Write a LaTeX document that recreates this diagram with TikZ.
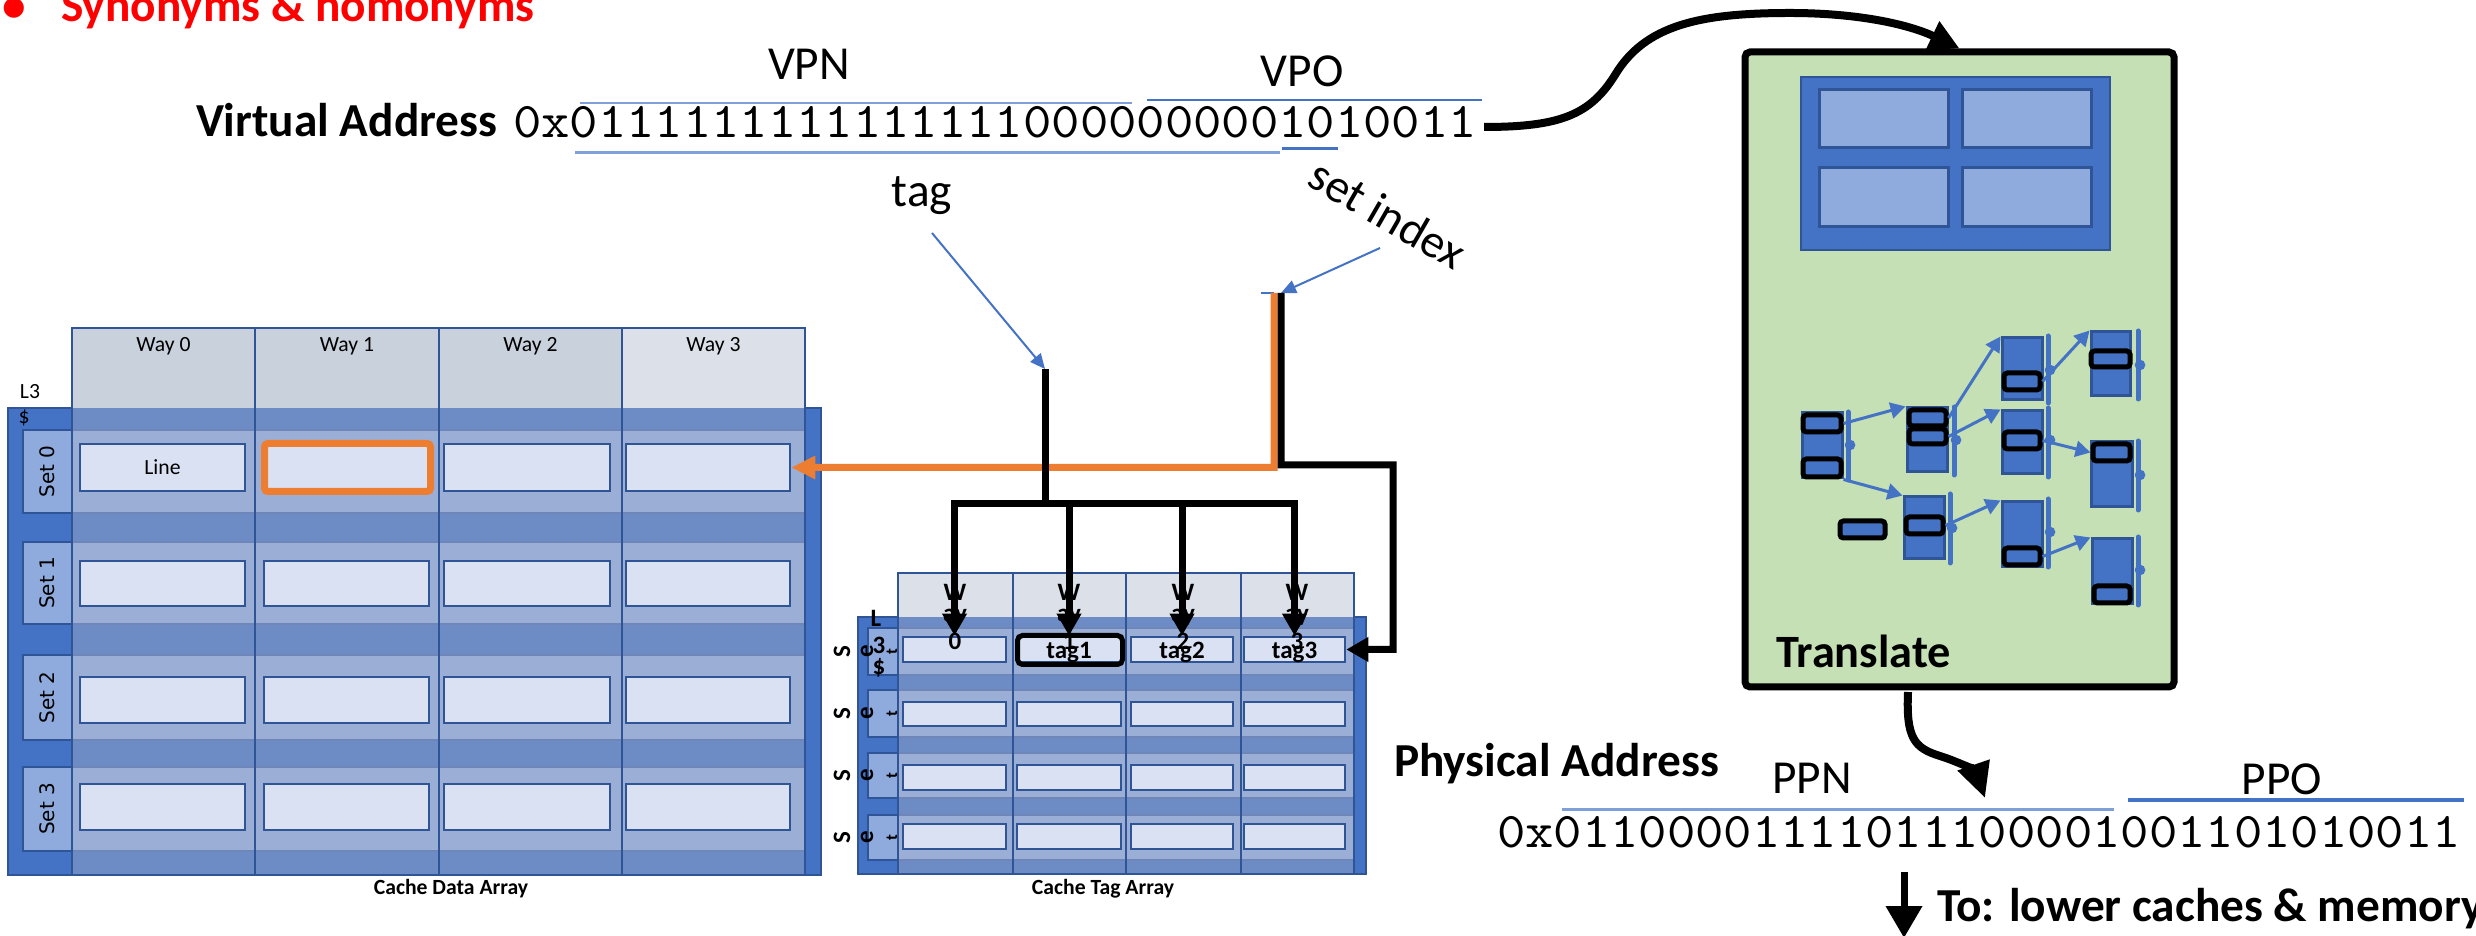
\documentclass[tikz,border=0pt]{standalone}
\usepackage{fontspec}
\setmainfont{Carlito}
\newfontfamily\monofont[FakeStretch=1.08]{lmmono10-regular.otf}
\newfontfamily\labelfont{DejaVu Sans}
\usetikzlibrary{arrows.meta,fit}

\newcommand{\setfs}[1]{\fontsize{#1}{#1}\selectfont}

\definecolor{accent}{HTML}{4472C4}
\definecolor{darkblue}{HTML}{2F5597}
\definecolor{labelfill}{HTML}{8FAADC}
\definecolor{cellfill}{HTML}{DAE1F3}
\definecolor{bandfill}{HTML}{6D8CC5}
\definecolor{rowfill}{HTML}{9BAFD6}
\definecolor{rowline}{HTML}{6F86B8}
\definecolor{headgray}{HTML}{C9D1DC}
\definecolor{headlight}{HTML}{DCE1E9}
\definecolor{orangeline}{HTML}{ED7D31}
\definecolor{greenfill}{HTML}{C5E0B4}
\definecolor{titlered}{HTML}{FF0000}
\definecolor{rulelight}{HTML}{7F9FD8}

\tikzset{
  txt/.style={inner sep=0pt, outer sep=0pt},
  biglabel/.style={txt, font=\bfseries\setfs{14.2}},
  plainlabel/.style={txt, font=\setfs{14.2}},
  bits/.style={txt, font=\monofont\setfs{15}},
  small/.style={txt, font=\setfs{6.5}},
  smallbold/.style={txt, font=\bfseries\setfs{6.5}},
  tagtext/.style={txt, font=\bfseries\setfs{7.5}},
  blk/.style={line width=2.1pt, black},
  blkarrow/.style={blk, -{Triangle[length=6.6pt,width=7pt]}},
  orangeln/.style={line width=2.1pt, orangeline},
  ptr/.style={accent, line width=0.6pt, -{Triangle[length=4.5pt,width=4pt]}},
  cellbox/.style={draw=darkblue, fill=cellfill, line width=0.75pt, inner sep=0pt},
  setbox/.style={draw=darkblue, fill=labelfill, line width=0.5pt, inner sep=0pt},
  ptcol/.style={fill=accent, draw=darkblue, line width=0.9pt, inner sep=0pt},
  ptentry/.style={fill=accent, draw=black, line width=1.5pt, rounded corners=1pt, inner sep=0pt},
  ptbracket/.style={accent, line width=1.5pt, line cap=round},
  ptarrow/.style={accent, line width=0.9pt, -{Triangle[length=4.5pt,width=4.8pt]}},
  bigcurve/.style={line width=2.4pt, black, -{Triangle[length=9pt,width=9pt]}},
}

\begin{document}
\begin{tikzpicture}[x=0.3pt, y=-0.3pt]
\fill[white] (0,0) rectangle (2476,936);
\useasboundingbox (0,0) rectangle (2476,936);

% ---------- heading ----------
\node[txt, anchor=base west, text=titlered, font=\bfseries\setfs{14.2}] (bullet) at (2,22) {•};
\node[txt, anchor=base west, text=titlered, font=\bfseries\setfs{14.2}] (title) at (61,22) {Synonyms \& homonyms};

% ---------- virtual address ----------
\node[biglabel, anchor=base west] (va) at (196,137) {Virtual Address};
\node[bits, anchor=base west] (vabits) at (513,138) {0x01111111111111110000000001010011};
\node[plainlabel] (vpn) at (809,64) {VPN};
\node[plainlabel] (vpo) at (1302,71) {VPO};
\draw[rulelight, line width=0.7pt] (580,103) -- (1132,103);
\draw[accent, line width=0.7pt] (1147,100) -- (1482,100);
\draw[rulelight, line width=0.9pt] (575,153) -- (1280,153);
\draw[accent, line width=0.9pt] (1282,149) -- (1338,149);

\node[plainlabel] (tagtxt) at (922,196) {tag};
\node[plainlabel, rotate=-30] (sitxt) at (1388,214) {set index};

% ---------- cache data array ----------
\fill[accent] (8,408) rectangle (821,875);
\draw[darkblue, line width=0.6pt] (8,408) rectangle (821,875);
\foreach \xa/\xb/\hc [count=\c from 0] in {72/255/headgray,255/439/headgray,439/622/headgray,622/805/headlight} {
  \fill[\hc] (\xa,328) rectangle (\xb,408);
  \fill[bandfill] (\xa,408) rectangle (\xb,875);
  \foreach \ya/\yb in {430/513,542/624,655/740,767/851}
    \filldraw[fill=rowfill, draw=rowline, line width=0.4pt] (\xa,\ya) rectangle (\xb,\yb);
  \draw[darkblue, line width=0.75pt] (\xa,328) rectangle (\xb,875);
  \node[small] (way-\c) at ({(\xa+\xb)/2},346) {Way \c};
}
\foreach \ya/\yb [count=\r from 0] in {430/513,542/624,655/740,767/851} {
  \node[setbox, fit={(23,\ya) (72,\yb)}] (dset-\r) {};
  \node[txt, rotate=90, font=\labelfont\setfs{6}] at (dset-\r.center) {Set \r};
}
\foreach \ya/\yb [count=\r from 0] in {444/491,561/606,677/723,784/830}
  \foreach \xa/\xb [count=\c from 0] in {80/245,264/429,444/610,626/790}
    \node[cellbox, fit={(\xa,\ya) (\xb,\yb)}] (dc-\r-\c) {};
\node[small] (linetxt) at (dc-0-0.center) {Line};
\draw[orangeline, line width=2.1pt, rounded corners=1pt] (264.5,443.5) rectangle (430.5,491.5);
\node[small] (l3) at (30,392) {L3};
\node[small] (l3d) at (24,418) {\$};
\node[smallbold] (dcap) at (451,889) {Cache Data Array};

% ---------- cache tag array ----------
\fill[accent] (858,617) rectangle (1366,874);
\draw[darkblue, line width=0.6pt] (858,617) rectangle (1366,874);
\foreach \xa/\xb [count=\c from 0] in {898/1013,1013/1126,1126/1241,1241/1354} {
  \fill[headlight] (\xa,573) rectangle (\xb,617);
  \fill[bandfill] (\xa,617) rectangle (\xb,874);
  \foreach \ya/\yb in {628/675,690/737,753/798,815/860}
    \filldraw[fill=rowfill, draw=rowline, line width=0.4pt] (\xa,\ya) rectangle (\xb,\yb);
  \draw[darkblue, line width=0.75pt] (\xa,573) rectangle (\xb,874);
}
\foreach \ya/\yb [count=\r from 0] in {628/675,690/737,753/798,815/860} {
  \node[setbox, fit={(868,\ya) (898,\yb)}] (tset-\r) {};
  \node[txt, rotate=90, font=\bfseries\setfs{7.5}] at (842,{(\ya+\yb)/2}) {S};
  \node[txt, rotate=90, font=\bfseries\setfs{7.5}] at (867,{(\ya+\yb)/2}) {e};
  \node[txt, rotate=90, font=\bfseries\setfs{5}] at (892,{(\ya+\yb)/2}) {t};
}
\node[tagtext] (tl) at (876,618) {L};
\node[tagtext] (t3) at (879,645) {3};
\node[tagtext] (td) at (879,668) {\$};
\foreach \ya/\yb [count=\r from 0] in {637/662,702/726,765/790,824/849}
  \foreach \xa/\xb [count=\c from 0] in {903/1006,1017/1121,1131/1233,1244/1345}
    \node[cellbox, fit={(\xa,\ya) (\xb,\yb)}] (tb-\r-\c) {};
\draw[black, line width=1.5pt, rounded corners=1.5pt] (1017.5,635.5) rectangle (1122.5,664.5);
\foreach \cx [count=\c from 0] in {955,1069,1183,1297} {
  \node[tagtext] at (\cx,592) {W};
  \node[tagtext] at (\cx,617) {ay};
  \node[tagtext] at (\cx,641) {\c};
}
\foreach \c in {1,2,3}
  \node[tagtext] at ([yshift=-1pt]tb-0-\c.center) {tag\c};
\node[smallbold] (tcap) at (1103,889) {Cache Tag Array};

% ---------- index / tag wiring ----------
\coordinate (tagtail) at (932,233);
\coordinate (tagjoin) at (1045,369);
\coordinate (busy) at (0,504);
\coordinate (sitail) at (1380,248);
\coordinate (sitop) at (1281,293);
\coordinate (otop) at (1274,293);

\draw[ptr] (tagtail) -- (tagjoin);
\draw[ptr] (sitail) -- (sitop);
\draw[accent, line width=0.6pt] (1261,293) -- (otop);

\draw[orangeln, -{Triangle[length=7.2pt,width=6.6pt]}] (otop) -- (1274,467.5) -- (dc-0-3.east);
\draw[blk] (tagjoin) -- (tagjoin |- busy);
\draw[blk, line cap=rect] (tb-0-0.north |- busy) -- (tb-0-3.north |- busy);
\foreach \c in {0,1,2,3}
  \draw[blkarrow] (tb-0-\c.north |- busy) -- (tb-0-\c.north);
\draw[blkarrow] (sitop) -- (1281,465) -- (1393,465) -- (1393,649.5) -- (tb-0-3.east);

% ---------- translation unit ----------
\node[fit={(1745,52) (2174,687)}, draw=black, line width=2.1pt, fill=greenfill, rounded corners=1.5pt, inner sep=0pt] (xlate) {};
\node[fit={(1801,77) (2110,250)}, fill=accent, draw=darkblue, line width=0.4pt, inner sep=0pt] (tlb) {};
\foreach \xa/\xb in {1819/1948,1962/2091}
  \foreach \ya/\yb in {90/148,168/227}
    \filldraw[fill=labelfill, draw=darkblue, line width=0.9pt] (\xa,\ya) rectangle (\xb,\yb);
\node[txt, anchor=base west, font=\bfseries\setfs{13.9}] (xltxt) at (1776,668) {Translate};

% page-table walk
\node[ptcol, fit={(1802,413) (1842,478)}] (ptA) {};
\node[ptentry, fit={(1803,415) (1841,432)}] (ptA1) {};
\node[ptentry, fit={(1803,459) (1841,477)}] (ptA2) {};
\draw[ptbracket] (1848,412) -- (1848,480);
\fill[accent] (1850,445) circle (1.6pt);

\node[ptcol, fit={(1907,408) (1947,472)}] (ptB) {};
\node[ptentry, fit={(1909,410) (1946,426)}] (ptB1) {};
\node[ptentry, fit={(1909,429) (1946,444)}] (ptB2) {};
\draw[ptbracket] (1954,407) -- (1954,475);
\fill[accent] (1956,440) circle (1.6pt);

\node[ptcol, fit={(1904,497) (1944,559)}] (ptC) {};
\node[ptentry, fit={(1906,517) (1943,534)}] (ptC1) {};
\draw[ptbracket] (1950,494) -- (1950,563);
\fill[accent] (1952,528) circle (1.6pt);

\node[ptentry, fit={(1840,521) (1885,538)}] (ptD1) {};

\node[ptcol, fit={(2002,338) (2042,400)}] (ptE) {};
\node[ptentry, fit={(2004,373) (2040,390)}] (ptE1) {};
\draw[ptbracket] (2048,336) -- (2048,403);
\fill[accent] (2050,370) circle (1.6pt);

\node[ptcol, fit={(2002,411) (2042,474)}] (ptF) {};
\node[ptentry, fit={(2004,432) (2040,449)}] (ptF1) {};
\draw[ptbracket] (2048,408) -- (2048,477);
\fill[accent] (2050,440) circle (1.6pt);

\node[ptcol, fit={(2002,502) (2042,567)}] (ptG) {};
\node[ptentry, fit={(2004,548) (2040,565)}] (ptG1) {};
\draw[ptbracket] (2048,499) -- (2048,567);
\fill[accent] (2050,532) circle (1.6pt);

\node[ptcol, fit={(2091,332) (2130,396)}] (ptH) {};
\node[ptentry, fit={(2091,351) (2130,367)}] (ptH1) {};
\draw[ptbracket] (2138,331) -- (2138,399);
\fill[accent] (2140,365) circle (1.6pt);

\node[ptcol, fit={(2091,442) (2132,507)}] (ptI) {};
\node[ptentry, fit={(2093,444) (2130,461)}] (ptI1) {};
\draw[ptbracket] (2138,441) -- (2138,510);
\fill[accent] (2140,475) circle (1.6pt);

\node[ptcol, fit={(2092,539) (2132,604)}] (ptJ) {};
\node[ptentry, fit={(2094,586) (2130,603)}] (ptJ1) {};
\draw[ptbracket] (2138,537) -- (2138,605);
\fill[accent] (2140,570) circle (1.6pt);

\draw[ptarrow] (ptA1.east) -- (ptB.north west);
\draw[ptarrow] (ptA.south east) -- (ptC.north west);
\draw[ptarrow] (ptB1.east) -- (ptE.north west);
\draw[ptarrow] (ptB2.east) -- (ptF.north west);
\draw[ptarrow] (ptC1.east) -- (ptG.north west);
\draw[ptarrow] (ptE1.east) -- (ptH.north west);
\draw[ptarrow] (ptF1.east) -- (ptI1.west);
\draw[ptarrow] (ptG1.east) -- (ptJ.north west);

% ---------- virtual to translate ----------
\coordinate (vaend) at (1484,127);
\draw[bigcurve] (vaend) .. controls (1560,127) and (1590,115) .. (1615,75)
  .. controls (1645,25) and (1700,13) .. (1790,13)
  .. controls (1860,13) and (1910,25) .. (xlate.north);

% ---------- physical address ----------
\node[biglabel, anchor=base west] (pa) at (1394,777) {Physical Address};
\node[plainlabel] (ppn) at (1812,778) {PPN};
\node[plainlabel] (ppo) at (2282,779) {PPO};
\draw[rulelight, line width=0.9pt] (1562,810) -- (2114,810);
\draw[accent, line width=1.2pt] (2128,800) -- (2464,800);
\node[bits, anchor=base west] (pabits) at (1497,847) {0x01100001111011100001001101010011};

\coordinate (xlout) at (1908,692);
\coordinate (pain) at (1985,798);
\draw[line width=2.4pt, -{Triangle[length=10.5pt,width=9.6pt]}] (xlout)
  .. controls (1906,738) and (1914,748) .. (1940,756)
  .. controls (1962,763) and (1976,772) .. (pain);

\coordinate (downtop) at (1904,872);
\coordinate (downtip) at (1904,938);
\draw[line width=2.1pt, -{Triangle[length=9.6pt,width=10.5pt]}] (downtop) -- (downtip);
\node[biglabel, anchor=base west] (tolow) at (1937,921) {To: lower caches \& memory};

\end{tikzpicture}
\end{document}
